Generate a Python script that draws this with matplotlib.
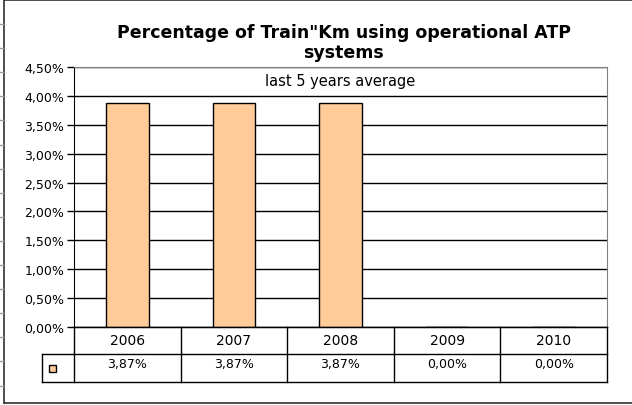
import numpy as np
import matplotlib.pyplot as plt
from matplotlib.lines import Line2D
from matplotlib.patches import Rectangle

years = ["2006", "2007", "2008", "2009", "2010"]
values = [3.87, 3.87, 3.87, 0.00, 0.00]
value_labels = ["3,87%", "3,87%", "3,87%", "0,00%", "0,00%"]
yticks = [0.0, 0.5, 1.0, 1.5, 2.0, 2.5, 3.0, 3.5, 4.0, 4.5]
ytick_labels = ["0,00%", "0,50%", "1,00%", "1,50%", "2,00%",
                "2,50%", "3,00%", "3,50%", "4,00%", "4,50%"]
title = "Percentage of Train\"Km using operational ATP\nsystems"
note = "last 5 years average"

W, H = 632, 406
bar_color = "#FFCC99"
plt.rcParams["font.family"] = ["DejaVu Sans"]

fig = plt.figure(figsize=(W / 100, H / 100), dpi=100)


def px(x, y):
    # pixel coords (top-left origin) -> figure fraction
    return x / W, 1 - y / H


left, right, top, bottom = 74, 607, 68, 328
ax = fig.add_axes([left / W, 1 - bottom / H, (right - left) / W, (bottom - top) / H])

x = np.arange(len(years))
ax.bar(x, values, width=0.4, color=bar_color, edgecolor="black", linewidth=1, zorder=3)
ax.set_xlim(-0.5, len(years) - 0.5)
ax.set_ylim(0, 4.5)
ax.set_yticks(yticks)
ax.set_yticklabels(ytick_labels, fontsize=9)
ax.set_xticks([])
ax.yaxis.grid(True, color="black", linewidth=1)
ax.tick_params(axis="y", length=5, width=1, pad=2, direction="out")
for s in ["top", "right"]:
    ax.spines[s].set_color("#808080")
ax.spines["left"].set_color("black")
ax.spines["bottom"].set_color("black")
ax.text(0.5, 4.26 / 4.5, note, transform=ax.transAxes, ha="center", va="center", fontsize=10.5)

# title
fig.text(*px(344, 43), title, ha="center", va="center", fontsize=12.5,
         fontweight="bold", linespacing=1.1)

# data table below the axis
col_w = (right - left) / len(years)
r0, r1, r2 = 328, 355, 383
lines = [
    ((left, right), (r0, r0)),
    ((42, right), (r1, r1)),
    ((42, right), (r2, r2)),
    ((42, 42), (r1, r2)),
]
for i in range(len(years) + 1):
    xx = left + i * col_w
    lines.append(((xx, xx), (r0, r2)))
for (xs, ys) in lines:
    fig.add_artist(Line2D([v / W for v in xs], [1 - v / H for v in ys],
                          color="black", linewidth=1))
for i, (yr, lab) in enumerate(zip(years, value_labels)):
    cx = left + (i + 0.5) * col_w
    fig.text(*px(cx, 341), yr, ha="center", va="center", fontsize=10)
    fig.text(*px(cx, 365), lab, ha="center", va="center", fontsize=9)
fig.add_artist(Rectangle(px(49, 373), 7 / W, 7 / H, facecolor=bar_color,
                         edgecolor="black", linewidth=1))

# outer frame of the chart
frame = [((4, 4), (1, 404)), ((4, W), (1, 1)), ((4, W), (404, 404))]
for (xs, ys) in frame:
    fig.add_artist(Line2D([v / W for v in xs], [1 - v / H for v in ys],
                          color="#303030", linewidth=1.2))
for yy in np.arange(16) * 24.1 + 25:
    fig.add_artist(Line2D([0, 3 / W], [1 - yy / H] * 2, color="#a0a0a0", linewidth=1))

fig.savefig("out.png", dpi=100)
